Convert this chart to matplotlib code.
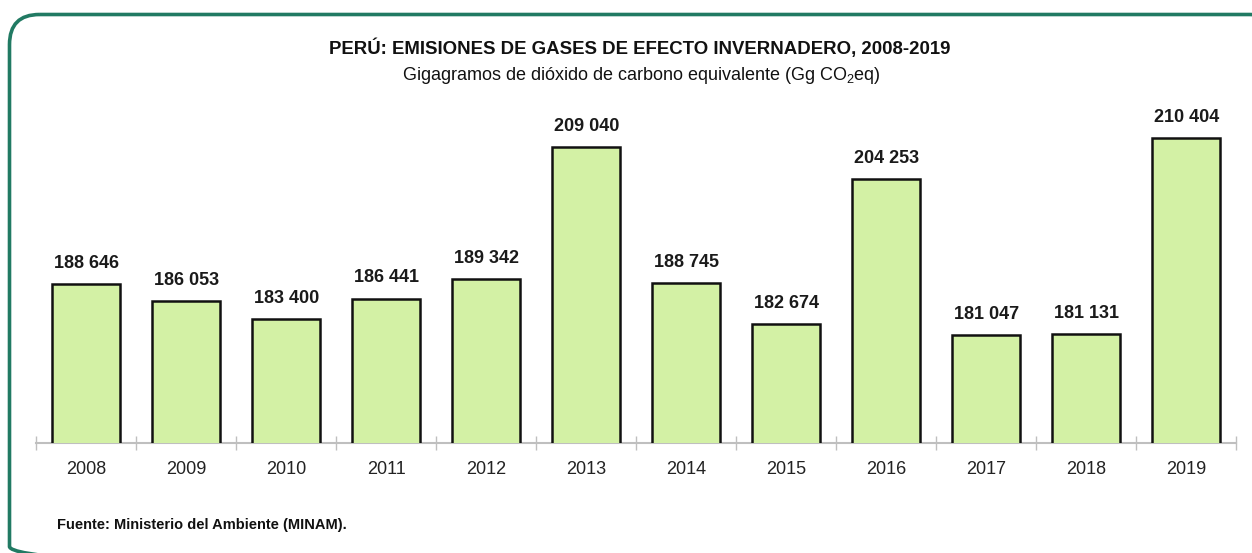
import matplotlib
matplotlib.use("Agg")
import matplotlib.pyplot as plt
from matplotlib.patches import FancyBboxPatch
from matplotlib.transforms import Affine2D

plt.rcParams['font.family'] = ['Liberation Sans', 'DejaVu Sans']
plt.rcParams['mathtext.fontset'] = 'custom'
plt.rcParams['mathtext.rm'] = 'Liberation Sans'

years = ['2008', '2009', '2010', '2011', '2012', '2013', '2014', '2015', '2016', '2017', '2018', '2019']
values = [188646, 186053, 183400, 186441, 189342, 209040, 188745, 182674, 204253, 181047, 181131, 210404]
value_labels = ['188 646', '186 053', '183 400', '186 441', '189 342', '209 040', '188 745', '182 674',
                '204 253', '181 047', '181 131', '210 404']

W, H = 1252, 553
fig = plt.figure(figsize=(W / 100, H / 100), dpi=100)
fig.patch.set_facecolor('white')

# pixel coordinates (top-left origin) -> figure
pix_tr = Affine2D().scale(1 / W, -1 / H).translate(0, 1) + fig.transFigure

# rounded green frame
frame = FancyBboxPatch((9.5, 14.5), 1270, 562, boxstyle="round,pad=0,rounding_size=30",
                       fill=False, edgecolor='#217a63', linewidth=2.6, transform=pix_tr)
fig.patches.append(frame)

ax = fig.add_axes([36.3 / W, (H - 442.7) / H, 1200 / W, (442.7 - 107.2) / H])
x = list(range(len(years)))
ax.bar(x, values, width=0.68, color='#d3f1a5', edgecolor='#111111', linewidth=1.8, zorder=3)
ax.set_xlim(-0.5, len(years) - 0.5)
ax.set_ylim(165000, 215000)

for xi, v, lab in zip(x, values, value_labels):
    ax.annotate(lab, (xi, v), xytext=(0, 9), textcoords='offset points', ha='center', va='bottom',
                fontsize=13, fontweight='bold', color='#1a1a1a')

for s in ['top', 'right', 'left']:
    ax.spines[s].set_visible(False)
ax.spines['bottom'].set_color('#bfbfbf')
ax.spines['bottom'].set_linewidth(1.5)
ax.set_yticks([])
ax.set_xticks([i - 0.5 for i in range(len(years) + 1)], minor=False)
ax.set_xticklabels([])
ax.tick_params(axis='x', which='major', direction='inout', length=10, width=1, color='#bfbfbf')
ax.set_xticks(x, minor=True)
ax.set_xticklabels(years, minor=True, fontsize=13, color='#222222')
ax.tick_params(axis='x', which='minor', length=0, pad=13)

fig.text(640 / W, 1 - 48 / H, 'PERÚ: EMISIONES DE GASES DE EFECTO INVERNADERO, 2008-2019',
         ha='center', va='center', fontsize=13.4, fontweight='bold', color='#111111')
fig.text(641 / W, 1 - 76 / H, r'Gigagramos de dióxido de carbono equivalente (Gg CO$_2$eq)',
         ha='center', va='center', fontsize=13, color='#111111')
fig.text(57 / W, 1 - 525 / H, 'Fuente: Ministerio del Ambiente (MINAM).',
         ha='left', va='center', fontsize=10.5, fontweight='bold', color='#111111')

fig.savefig('out.png', dpi=100, facecolor='white')
